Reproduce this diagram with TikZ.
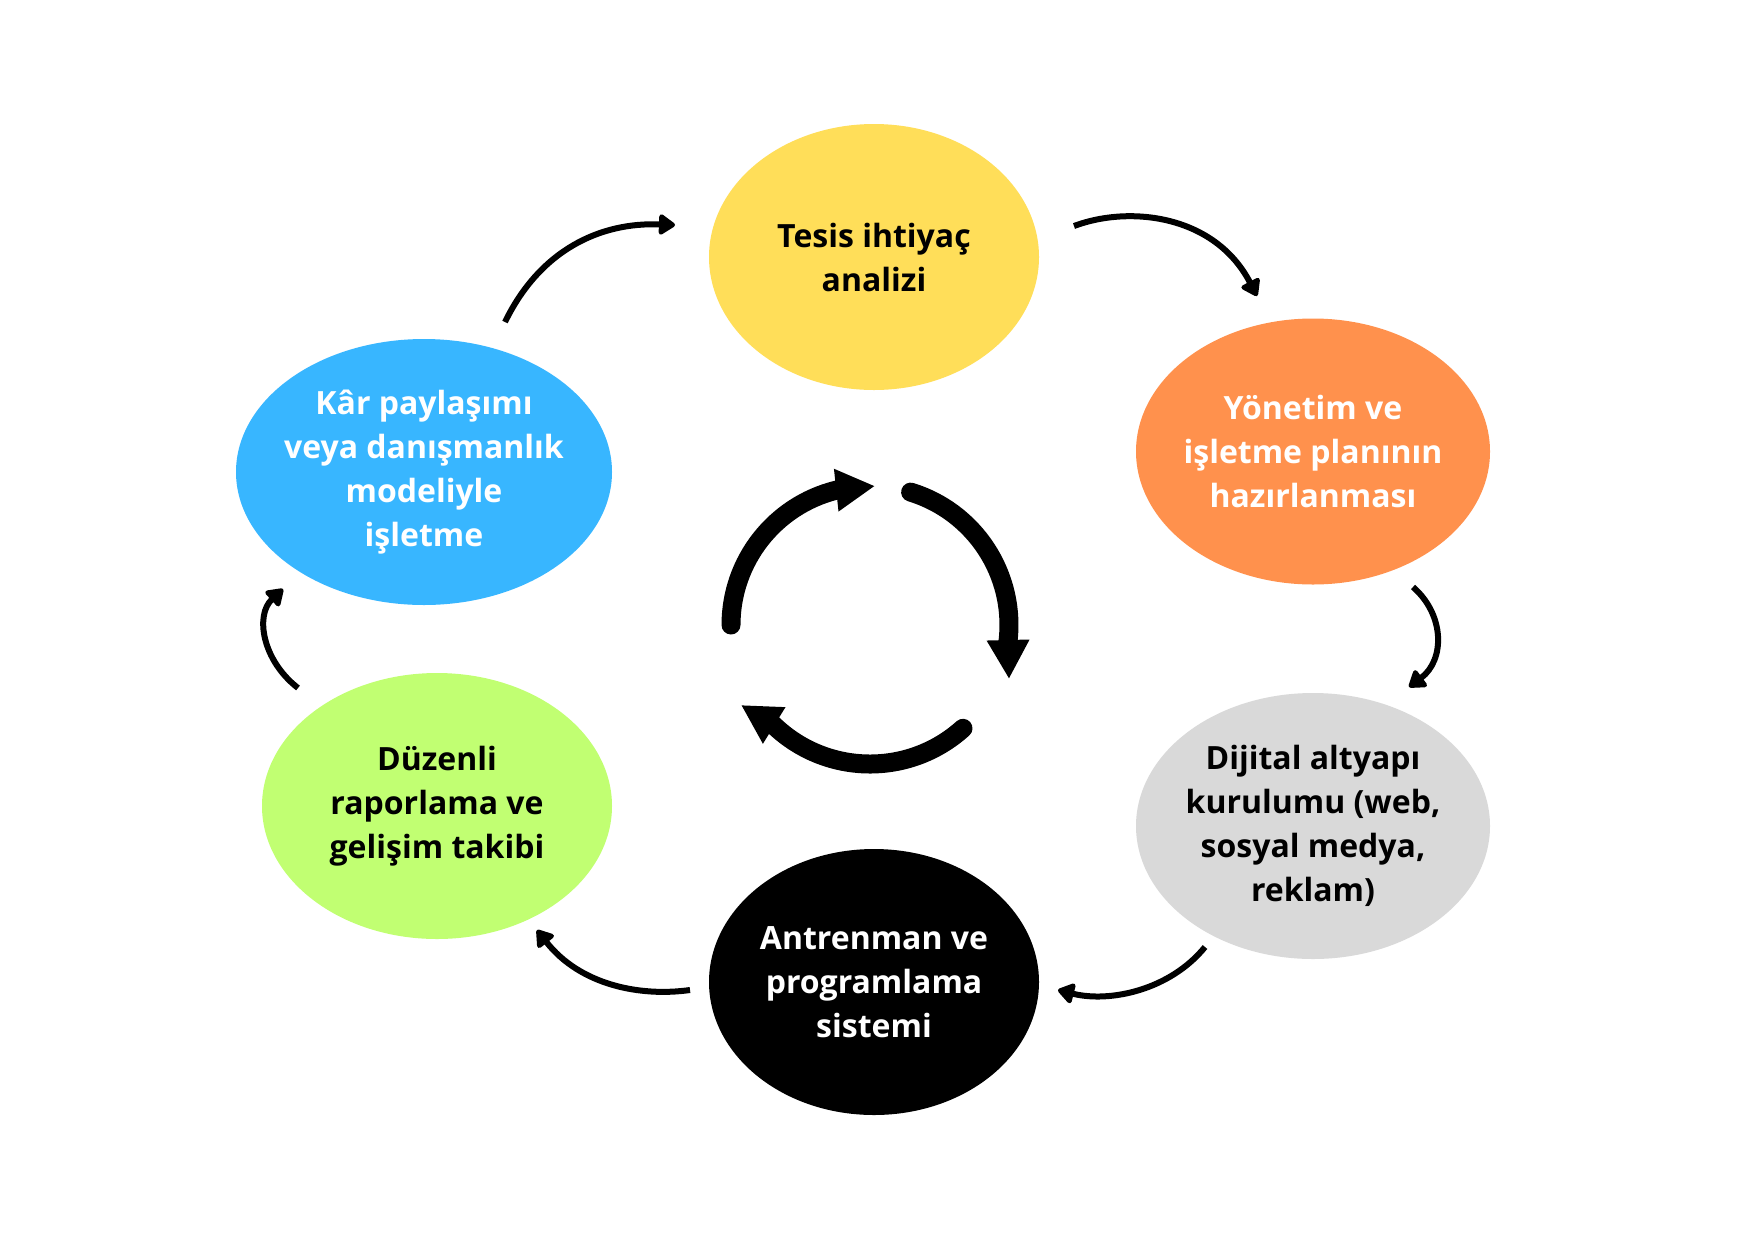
\documentclass[tikz,border=0pt]{standalone}
\usepackage{fontspec}
\setmainfont{Open Sans}
\usetikzlibrary{shapes.geometric,arrows.meta}
\definecolor{cyellow}{HTML}{FFDE59}
\definecolor{corange}{HTML}{FF914D}
\definecolor{cgrey}{HTML}{D9D9D9}
\definecolor{cgreen}{HTML}{C1FF72}
\definecolor{cblue}{HTML}{38B6FF}
\begin{document}
\begin{tikzpicture}[x=1pt,y=-1pt,
  stage/.style={ellipse, inner sep=0pt, minimum height=266pt},
  stagetext/.style={inner sep=0pt, align=center, font=\fontsize{32}{44}\selectfont\bfseries},
  link/.style={line width=6pt, -{Triangle[length=18pt,width=23pt,round]}},
  cyc/.style={line width=19pt, line cap=round, -{Triangle[length=39pt,width=40pt]}}]
\useasboundingbox[fill=white] (0,0) rectangle (1748,1240);

\node[stage, fill=cyellow, minimum width=330pt] (s1) at (874,257) {};
\node[stagetext, text=black] (t1) at (s1.center) {Tesis ihtiyaç\\analizi};
\node[stage, fill=corange, minimum width=354pt] (s2) at (1313,451.5) {};
\node[stagetext, text=white] (t2) at (s2.center) {Yönetim ve\\işletme planının\\hazırlanması};
\node[stage, fill=cgrey, minimum width=354pt] (s3) at (1313,826) {};
\node[stagetext, text=black] (t3) at (s3.center) {Dijital altyapı\\kurulumu (web,\\sosyal medya,\\reklam)};
\node[stage, fill=black, minimum width=330pt] (s4) at (874,982) {};
\node[stagetext, text=white] (t4) at (s4.center) {Antrenman ve\\programlama\\sistemi};
\node[stage, fill=cgreen, minimum width=350pt] (s5) at (437,806) {};
\node[stagetext, text=black] (t5) at (s5.center) {Düzenli\\raporlama ve\\gelişim takibi};
\node[stage, fill=cblue, minimum width=376pt] (s6) at (424,472) {};
\node[stagetext, text=white] (t6) at (s6.center) {Kâr paylaşımı\\veya danışmanlık\\modeliyle\\işletme};

% connector end points
\coordinate (a1s) at (505,322);  \coordinate (a1e) at (675,225);
\coordinate (a2s) at (1074,226); \coordinate (a2e) at (1257,296);
\coordinate (a3s) at (1413,587); \coordinate (a3e) at (1409,687);
\coordinate (a4s) at (1205,947); \coordinate (a4e) at (1058,990);
\coordinate (a5s) at (690,990);  \coordinate (a5e) at (537,930);
\coordinate (a6s) at (298,688);  \coordinate (a6e) at (283,589);

\draw[link] (a1s) .. controls (540,250) and (600,222) .. (a1e);
\draw[link] (a2s) .. controls (1130,205) and (1215,215) .. (a2e);
\draw[link] (a3s) .. controls (1445,615) and (1445,660) .. (a3e);
\draw[link] (a4s) .. controls (1170,990) and (1110,1003) .. (a4e);
\draw[link] (a5s) .. controls (640,997) and (580,985) .. (a5e);
\draw[link] (a6s) .. controls (262,660) and (255,615) .. (a6e);

% central cycle
\coordinate (ctr) at (870,625);
\draw[cyc] (731,625) arc[start angle=180,end angle=256,radius=139] -- (875,486);
\draw[cyc] (910.6,492.1) arc[start angle=-73,end angle=6.4,radius=139] -- (1009,679);
\draw[cyc] (963,728.3) arc[start angle=48,end angle=134,radius=139] -- (741,705);
\end{tikzpicture}
\end{document}
